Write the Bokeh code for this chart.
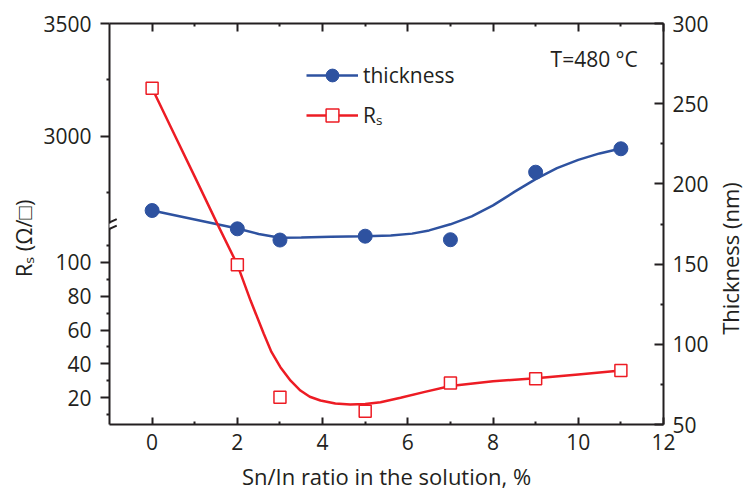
import math
from bokeh.plotting import figure
from bokeh.layouts import row
from bokeh.models import (Range1d, LinearAxis, FixedTicker, CustomJSTickFormatter,
                          Legend, LegendItem, Label, Arrow)
from bokeh.embed import file_html
from bokeh.resources import INLINE

# ---------------- data ----------------
sn_in_ratio = [0, 2, 3, 5, 7, 9, 11]
thickness_nm = [183.4, 172.0, 165.0, 167.4, 165.2, 207.3, 221.9]
rs_ohm_sq = [3213, 98.6, 20.4, 12.1, 28.8, 31.2, 36.1]

# smooth guide curves as drawn in the original
thk_fit_x = [0, 1, 2, 2.5, 3, 3.5, 4.2, 5, 5.6, 6.1, 6.5, 7.0, 7.5, 8.0, 8.5, 9.0, 9.5,
             10.0, 10.5, 11]
thk_fit_y = [183.4, 177.8, 172.2, 168.8, 166.4, 166.6, 167.0, 167.3, 167.8, 169.0, 171.0,
             174.8, 179.8, 186.6, 195.0, 203.0, 209.8, 215.0, 219.0, 222.1]
rs_fit_hi_x = [0, 0.5, 1.0, 1.55]
rs_fit_hi_y = [3213, 3017, 2822, 2605]
rs_fit_lo_x = [1.55, 2.0, 2.31, 2.62, 2.8, 3.01, 3.25, 3.48, 3.7, 3.95, 4.3, 4.65, 5.0,
               5.36, 5.83, 6.4, 7.0, 8.0, 9.0, 10.0, 11.0]
rs_fit_lo_y = [121.65, 98.6, 77.4, 57.8, 47.1, 38.1, 30.1, 24.3, 20.6, 18.4, 16.6, 16.0,
               16.4, 17.4, 20.0, 23.5, 27.0, 29.8, 31.5, 33.8, 36.1]

x_ticks = [0, 2, 4, 6, 8, 10, 12]
x_minor = [1, 3, 5, 7, 9, 11]
rs_lo_ticks = [20, 40, 60, 80, 100]
rs_lo_minor = [10, 30, 50, 70, 90, 110]
rs_hi_ticks = [3000, 3500]
rs_hi_minor = [2750, 3250]
thk_ticks = [50, 100, 150, 200, 250, 300]
thk_minor = [75, 125, 175, 225, 275]

# ---------------- broken-axis geometry ----------------
X_START, X_END = -1, 12
LO_START, LO_BREAK = 4.25, 121.65
HI_BREAK, HI_END = 2605, 3500
THK_START, THK_END = 50, 300
BREAK_FRAC = 0.496          # fraction of plot height used by lower segment

lo_end = LO_START + (LO_BREAK - LO_START) / BREAK_FRAC
hi_start = HI_END - (HI_END - HI_BREAK) / (1 - BREAK_FRAC)
k = (lo_end - LO_START) / (HI_END - hi_start)


def hi_to_lo(v):
    return min(LO_START + (v - hi_start) * k, lo_end)


INK = "#231f20"
BLUE = "#2e52a0"
RED = "#ed1c24"
FONT = "Open Sans"
H = 500
LEFT_W, RIGHT_W = 40, 34

p = figure(width=745 - LEFT_W - RIGHT_W, height=H,
           x_range=Range1d(X_START, X_END), y_range=Range1d(LO_START, lo_end),
           output_backend="svg", toolbar_location=None,
           min_border_left=69, min_border_right=48, min_border_top=23, min_border_bottom=76)
p.extra_y_ranges = {"hi": Range1d(hi_start, HI_END), "thk": Range1d(THK_START, THK_END)}
p.xgrid.visible = False
p.ygrid.visible = False
p.outline_line_color = None
p.background_fill_color = "white"
p.border_fill_color = "white"


def style_axis(ax):
    ax.axis_line_width = 2
    ax.axis_line_color = INK
    ax.major_tick_line_width = 2
    ax.major_tick_line_color = INK
    ax.minor_tick_line_width = 2
    ax.minor_tick_line_color = INK
    ax.major_label_text_font = FONT
    ax.major_label_text_font_size = "21px"
    ax.major_label_text_color = INK
    ax.axis_label_text_font = FONT
    ax.axis_label_text_font_size = "22px"
    ax.axis_label_text_font_style = "normal"
    ax.axis_label_text_color = INK


# bottom axis
xa = p.xaxis[0]
style_axis(xa)
xa.ticker = FixedTicker(ticks=x_ticks, minor_ticks=x_minor)
xa.major_tick_in, xa.major_tick_out = 7, 0
xa.minor_tick_in, xa.minor_tick_out = 3, 0
xa.major_label_standoff = 9
xa.axis_label = "Sn/In ratio in the solution, %"
xa.axis_label_standoff = 8

# top axis (ticks only)
ta = LinearAxis(ticker=FixedTicker(ticks=x_ticks, minor_ticks=x_minor),
                formatter=CustomJSTickFormatter(code="return ''"))
style_axis(ta)
ta.major_label_text_font_size = "1px"
ta.major_label_standoff = 0
ta.major_tick_in, ta.major_tick_out = 8, 0
ta.minor_tick_in, ta.minor_tick_out = 3, 0
p.add_layout(ta, "above")

# left (broken) axis
ya = p.yaxis[0]
style_axis(ya)
ya.ticker = FixedTicker(ticks=rs_lo_ticks + [hi_to_lo(v) for v in rs_hi_ticks],
                        minor_ticks=rs_lo_minor + [hi_to_lo(v) for v in rs_hi_minor])
ya.formatter = CustomJSTickFormatter(
    args=dict(brk=LO_BREAK, hs=hi_start, ls=LO_START, k=k),
    code="""
    if (tick > brk) { return Math.round(hs + (tick - ls) / k).toString(); }
    return tick.toFixed(0);
    """)
ya.major_tick_in, ya.major_tick_out = 0, 9
ya.minor_tick_in, ya.minor_tick_out = 0, 3
ya.major_label_standoff = 9

# right axis (thickness)
ra = LinearAxis(y_range_name="thk",
                ticker=FixedTicker(ticks=thk_ticks, minor_ticks=thk_minor))
style_axis(ra)
ra.major_tick_in, ra.major_tick_out = 9, 0
ra.minor_tick_in, ra.minor_tick_out = 3, 0
ra.major_label_standoff = 9
p.add_layout(ra, "right")

# ---------------- glyphs ----------------
thk_line = p.line(thk_fit_x, thk_fit_y, y_range_name="thk", line_color=BLUE, line_width=2.5)
rs_hi_line = p.line(rs_fit_hi_x, rs_fit_hi_y, y_range_name="hi", line_color=RED, line_width=2.5)
rs_lo_line = p.line(rs_fit_lo_x, rs_fit_lo_y, line_color=RED, line_width=2.5)

thk_pts = p.scatter(sn_in_ratio, thickness_nm, y_range_name="thk", marker="circle", size=14,
                    fill_color=BLUE, line_color=BLUE, line_width=1)

hi_idx = [i for i, v in enumerate(rs_ohm_sq) if v > LO_BREAK]
lo_idx = [i for i, v in enumerate(rs_ohm_sq) if v <= LO_BREAK]
p.scatter([sn_in_ratio[i] for i in hi_idx], [rs_ohm_sq[i] for i in hi_idx], y_range_name="hi",
          marker="square", size=12, fill_color="white", line_color=RED, line_width=1.5)
rs_pts = p.scatter([sn_in_ratio[i] for i in lo_idx], [rs_ohm_sq[i] for i in lo_idx],
                   marker="square", size=12, fill_color="white", line_color=RED, line_width=1.5)

# break marks on the left axis
p.add_layout(Arrow(end=None, x_start=X_START, y_start=LO_BREAK - 1.2, x_end=X_START,
                   y_end=LO_BREAK + 1.2, line_color="white", line_width=4))
for dy in (-1.9, 1.9):
    p.add_layout(Arrow(end=None, x_start=X_START - 0.17, y_start=LO_BREAK + dy - 1.9,
                       x_end=X_START + 0.17, y_end=LO_BREAK + dy + 1.9,
                       line_color=INK, line_width=2))

# legend
legend = Legend(items=[LegendItem(label="thickness", renderers=[thk_line, thk_pts]),
                       LegendItem(label="Rₛ", renderers=[rs_lo_line, rs_pts])],
                location=(197, 293), glyph_width=52, glyph_height=32, label_height=32,
                spacing=8, label_standoff=5, padding=0, margin=0,
                border_line_color=None, background_fill_alpha=0,
                label_text_font=FONT, label_text_font_size="21px", label_text_color=INK)
p.add_layout(legend)

p.add_layout(Label(x=9.35, y=278, y_range_name="thk", text="T=480 °C",
                   text_font=FONT, text_font_size="21px", text_color=INK,
                   text_baseline="alphabetic"))


# ---------------- side strips holding the vertical axis titles ----------------
def title_strip(width, text, cx, cy):
    s = figure(width=width, height=H, x_range=Range1d(0, width), y_range=Range1d(H, 0),
               output_backend="svg", toolbar_location=None,
               x_axis_location=None, y_axis_location=None,
               min_border=0, min_border_left=0, min_border_right=0,
               min_border_top=0, min_border_bottom=0)
    s.xgrid.visible = False
    s.ygrid.visible = False
    s.outline_line_color = None
    s.background_fill_color = "white"
    s.border_fill_color = "white"
    s.add_layout(Label(x=cx, y=cy, text=text, angle=math.pi / 2,
                       text_align="center", text_baseline="middle",
                       text_font=FONT, text_font_size="22px", text_color=INK))
    return s


left_strip = title_strip(LEFT_W, "Rₛ (Ω/□)", 22, 268)
right_strip = title_strip(RIGHT_W, "Thickness (nm)", 18.5, 293)

layout = row(left_strip, p, right_strip)

open("out.html", "w").write(file_html(layout, INLINE))
